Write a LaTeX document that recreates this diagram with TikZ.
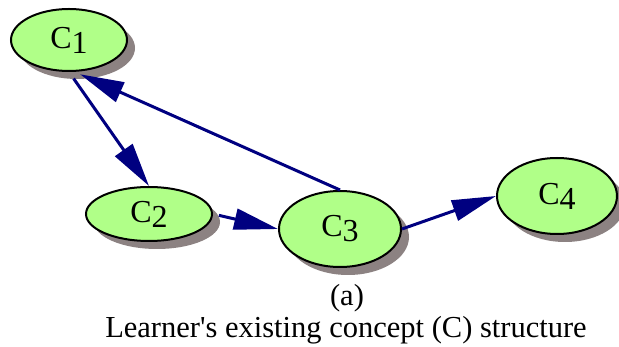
\documentclass[tikz,border=0pt]{standalone}
\usepackage{fontspec}
\setmainfont{Liberation Serif}
\usetikzlibrary{shapes.geometric,shadows,arrows.meta}
\definecolor{conceptgreen}{RGB}{176,255,136}
\definecolor{shadowgray}{RGB}{140,130,130}
\definecolor{linknavy}{RGB}{0,0,128}
\newcommand{\cname}[1]{C\raisebox{-5pt}{#1}}
\tikzset{
  concept/.style={ellipse,draw=black,line width=2pt,fill=conceptgreen,
    inner sep=0pt,font=\fontsize{32}{36}\selectfont,
    drop shadow={shadow xshift=8pt,shadow yshift=-8pt,fill=shadowgray,opacity=1}},
  link/.style={draw=linknavy,line width=3pt,
    -{Triangle[length=44pt,width=21pt]}}
}
\begin{document}
\begin{tikzpicture}[x=1pt,y=-1pt]
  \useasboundingbox (0,0) rectangle (619,347);

  % Die vier Konzepte
  \node[concept,minimum width=116pt,minimum height=62pt] (c1) at (69,40) {\cname{1}};
  \node[concept,minimum width=126pt,minimum height=54pt] (c2) at (149,214) {\cname{2}};
  \node[concept,minimum width=122pt,minimum height=76pt] (c3) at (340,229) {\cname{3}};
  \node[concept,minimum width=120pt,minimum height=76pt] (c4) at (557,196) {\cname{4}};

  % Verbindungen
  \draw[link,shorten <=8pt] (c1.south) -- (c2.north);
  \draw[link,shorten >=6pt] (c3.north) -- (c1.-80);
  \draw[link,shorten <=6pt] (c2.east) -- (c3.west);
  \draw[link] (c3.east) -- (c4.west);

  % Beschriftung
  \node[font=\fontsize{30.5}{34}\selectfont] (lbla) at (347,298) {(a)};
  \node[font=\fontsize{30.5}{34}\selectfont] (caption) at (346,330) {Learner\textquotesingle s existing concept (C) structure};
\end{tikzpicture}
\end{document}
